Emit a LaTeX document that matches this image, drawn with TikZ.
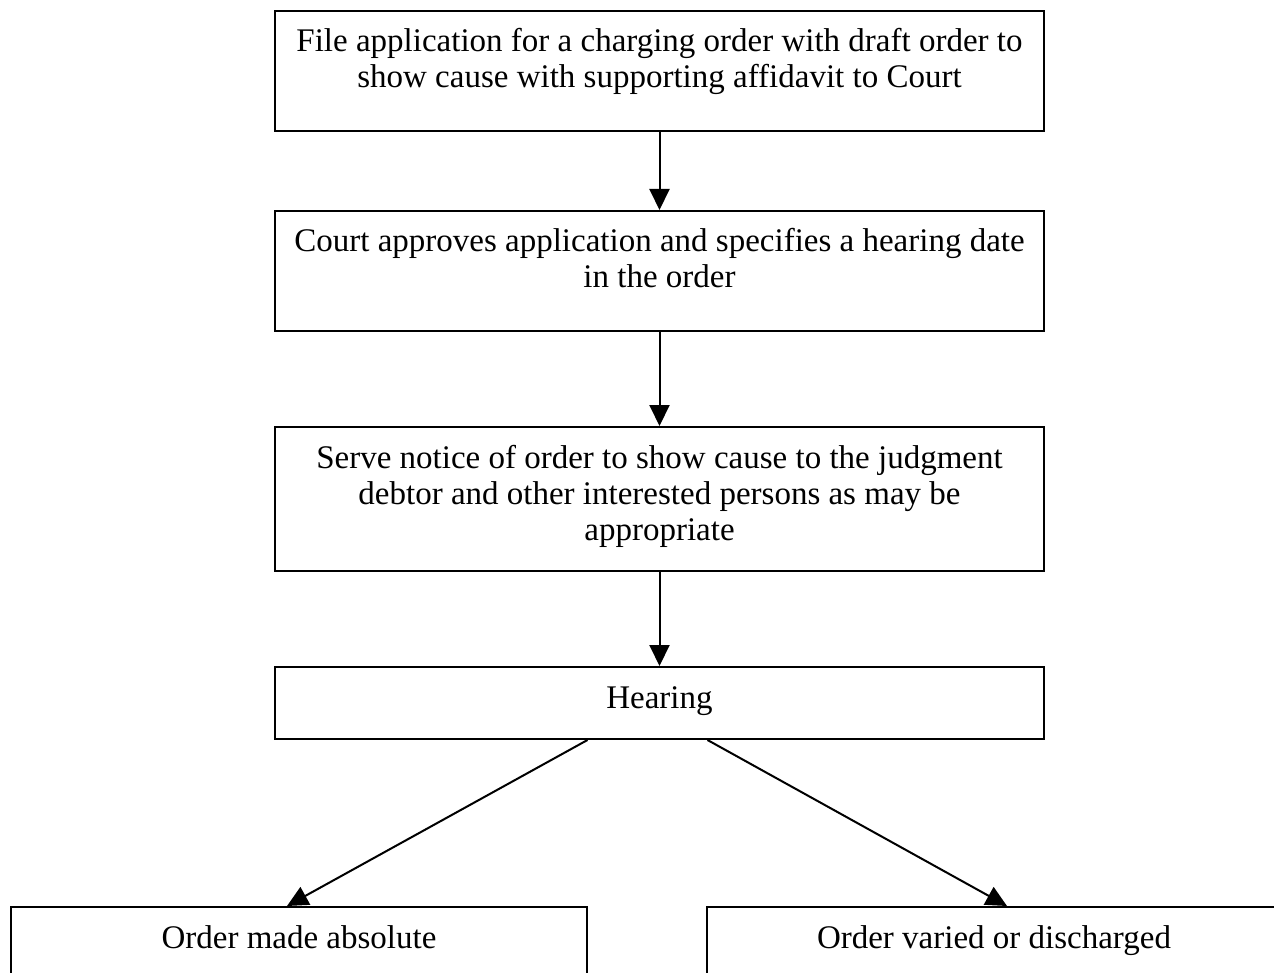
\documentclass[tikz,border=0pt]{standalone}
\usepackage{fontspec}
\setmainfont{Liberation Serif}
\usetikzlibrary{arrows.meta}
\begin{document}
\begin{tikzpicture}[x=1pt,y=-1pt,
  every node/.style={font=\fontsize{33}{36}\selectfont},
  box/.style={draw, line width=2pt, inner sep=0pt, anchor=north west, minimum width=769pt},
  txt/.style={anchor=base, align=center, inner sep=0pt},
  arr/.style={line width=2pt, -{Triangle[width=20pt,length=21pt]}}]
\clip (0,0) rectangle (1274,973);
\useasboundingbox (0,0) rectangle (1274,973);
\fill[white] (0,0) rectangle (1274,973);
\node[box, minimum height=120pt] (b1) at (274,10) {};
\node[box, minimum height=120pt] (b2) at (274,210) {};
\node[box, minimum height=144pt] (b3) at (274,426) {};
\node[box, minimum height=72pt] (b4) at (274,666) {};
\node[box, minimum width=576pt, minimum height=120pt] (b5) at (10,906) {};
\node[box, minimum width=574pt, minimum height=120pt] (b6) at (706,906) {};
\node[txt] (t1) at ([yshift=-78pt]b1.north) {File application for a charging order with draft order to\\show cause with supporting affidavit to Court};
\node[txt] (t2) at ([yshift=-78pt]b2.north) {Court approves application and specifies a hearing date\\in the order};
\node[txt] (t3) at ([yshift=-114pt]b3.north) {Serve notice of order to show cause to the judgment\\debtor and other interested persons as may be\\appropriate};
\node[txt] (t4) at ([yshift=-42pt]b4.north) {Hearing};
\node[txt] (t5) at ([yshift=-42pt]b5.north) {Order made absolute};
\node[txt] (t6) at ([yshift=-42pt]b6.north) {Order varied or discharged};
\draw[arr] (b1.south) -- (b2.north);
\draw[arr] (b2.south) -- (b3.north);
\draw[arr] (b3.south) -- (b4.north);
\coordinate (hl) at ([xshift=-72pt]b4.south);
\coordinate (hr) at ([xshift=48pt]b4.south);
\coordinate (tl) at ([xshift=-12pt]b5.north);
\coordinate (tr) at ([xshift=13pt]b6.north);
\draw[arr] (hl) -- (tl);
\draw[arr] (hr) -- (tr);
\end{tikzpicture}
\end{document}
